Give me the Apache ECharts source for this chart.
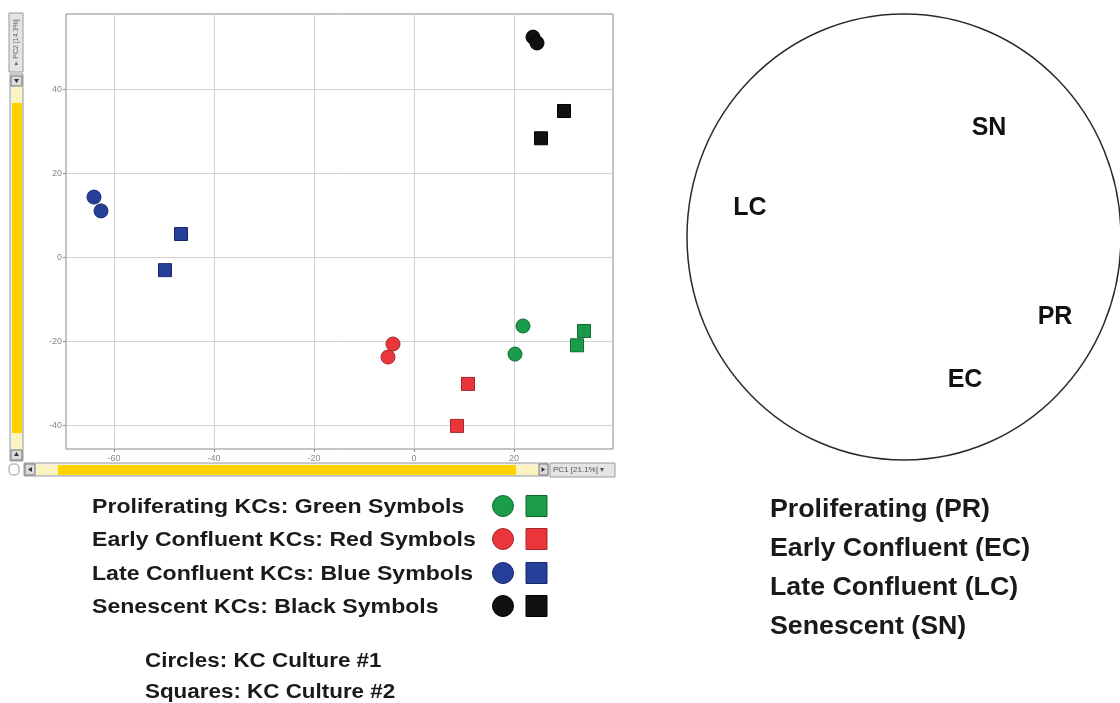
<!DOCTYPE html>
<html><head><meta charset="utf-8">
<script src="https://cdn.jsdelivr.net/npm/echarts@6/dist/echarts.min.js"></script>
<style>html,body{margin:0;padding:0;background:#fff}#c{width:1120px;height:703px}</style>
</head><body><div id="c"></div>
<script>
// ---- data (PC1, PC2) ----
const greenCircles = [[21.8,-16.4],[20.2,-23.1]];
const greenSquares = [[34.0,-17.6],[32.6,-21.0]];
const redCircles   = [[-4.2,-20.7],[-5.2,-23.8]];
const redSquares   = [[10.8,-30.2],[8.6,-40.2]];
const blueCircles  = [[-64.0,14.3],[-62.6,11.0]];
const blueSquares  = [[-46.6,5.5],[-49.8,-3.1]];
const blackCircles = [[23.8,52.4],[24.6,51.0]];
const blackSquares = [[30.0,34.8],[25.4,28.3]];
const xTicks = [-60,-40,-20,0,20];
const yTicks = [-40,-20,0,20,40];
const xAxisName = 'PC1 [21.1%]';
const yAxisName = 'PC2 [14.3%]';
const legendLines = ['Proliferating KCs: Green Symbols','Early Confluent KCs: Red Symbols','Late Confluent KCs: Blue Symbols','Senescent KCs: Black Symbols'];
const shapeLines = ['Circles: KC Culture #1','Squares: KC Culture #2'];
const stageLines = ['Proliferating (PR)','Early Confluent (EC)','Late Confluent (LC)','Senescent (SN)'];
const circleLabels = ['SN','LC','PR','EC'];

const C = {
  green:{fill:'#1a9c4a',stroke:'#0f6b30'},
  red:{fill:'#ea363b',stroke:'#a3262a'},
  blue:{fill:'#263f98',stroke:'#18286b'},
  black:{fill:'#111111',stroke:'#000000'}
};
const groupColors = [C.green,C.red,C.blue,C.black];
const FF = '"Liberation Sans", Arial, sans-serif';

function ser(name,data,sym,col){
  return {name,type:'scatter',data,symbol:sym==='c'?'circle':'rect',symbolSize:sym==='c'?14:13,
    itemStyle:{color:col.fill,borderColor:col.stroke,borderWidth:1,opacity:1},z:5};
}

const g = [];
// left vertical scrollbar + label
g.push({type:'rect',shape:{x:9,y:13,width:14,height:59},style:{fill:'#e4e4e4',stroke:'#9a9a9a',lineWidth:1}});
g.push({type:'text',x:16,y:42,rotation:Math.PI/2,style:{text:'\u25B8 '+yAxisName,fill:'#666',font:'7px '+FF,textAlign:'center',textVerticalAlign:'middle'}});
g.push({type:'rect',shape:{x:10,y:74,width:13,height:387},style:{fill:'#eeeeee',stroke:'#9a9a9a',lineWidth:1}});
g.push({type:'rect',shape:{x:11,y:76,width:11,height:10},style:{fill:'#dcdcdc',stroke:'#777',lineWidth:1}});
g.push({type:'polygon',shape:{points:[[14,79],[19,79],[16.5,83]]},style:{fill:'#333'}});
g.push({type:'rect',shape:{x:12,y:87,width:10,height:16},style:{fill:'#fbf3bd'}});
g.push({type:'rect',shape:{x:12,y:103,width:10,height:330},style:{fill:'#ffd200'}});
g.push({type:'rect',shape:{x:12,y:433,width:10,height:16},style:{fill:'#fbf3bd'}});
g.push({type:'rect',shape:{x:11,y:450,width:11,height:10},style:{fill:'#dcdcdc',stroke:'#777',lineWidth:1}});
g.push({type:'polygon',shape:{points:[[14,456],[19,456],[16.5,452]]},style:{fill:'#333'}});
// bottom scrollbar
g.push({type:'rect',shape:{x:24,y:463,width:524,height:13},style:{fill:'#eeeeee',stroke:'#9a9a9a',lineWidth:1}});
g.push({type:'rect',shape:{x:25,y:464,width:10,height:11},style:{fill:'#dcdcdc',stroke:'#777',lineWidth:1}});
g.push({type:'polygon',shape:{points:[[28,469.5],[32,467],[32,472]]},style:{fill:'#333'}});
g.push({type:'rect',shape:{x:36,y:465,width:22,height:10},style:{fill:'#fbf3bd'}});
g.push({type:'rect',shape:{x:58,y:465,width:458,height:10},style:{fill:'#ffd200'}});
g.push({type:'rect',shape:{x:516,y:465,width:23,height:10},style:{fill:'#fbf3bd'}});
g.push({type:'rect',shape:{x:539,y:464,width:9,height:11},style:{fill:'#dcdcdc',stroke:'#777',lineWidth:1}});
g.push({type:'polygon',shape:{points:[[545,469.5],[541.5,467],[541.5,472]]},style:{fill:'#333'}});
g.push({type:'rect',shape:{x:550,y:463,width:65,height:14},style:{fill:'#e4e4e4',stroke:'#9a9a9a',lineWidth:1}});
g.push({type:'text',x:553,y:470,style:{text:xAxisName+' \u25BE',fill:'#555',font:'8px '+FF,textAlign:'left',textVerticalAlign:'middle'}});
// paperclip icon
g.push({type:'rect',shape:{x:9,y:464,width:10,height:11,r:4},style:{fill:'none',stroke:'#bbb',lineWidth:1.5}});

// legend (left)
const lx=92, ly=[507,540,574,607];
legendLines.forEach((t,i)=>{
  g.push({type:'text',x:lx,y:ly[i],scaleX:1.1,style:{text:t,fill:'#1a1a1a',font:'bold 21px '+FF,textAlign:'left',textVerticalAlign:'middle'}});
  const col=groupColors[i];
  g.push({type:'circle',shape:{cx:503,cy:ly[i]-1,r:10.5},style:{fill:col.fill,stroke:col.stroke,lineWidth:1}});
  g.push({type:'rect',shape:{x:526,y:ly[i]-11.5,width:21,height:21},style:{fill:col.fill,stroke:col.stroke,lineWidth:1}});
});
shapeLines.forEach((t,i)=>{
  g.push({type:'text',x:145,y:[661,692][i],scaleX:1.12,style:{text:t,fill:'#1a1a1a',font:'bold 20px '+FF,textAlign:'left',textVerticalAlign:'middle'}});
});
// right ellipse + labels
g.push({type:'ellipse',shape:{cx:904,cy:237,rx:217,ry:223},style:{fill:'none',stroke:'#2a2a2a',lineWidth:1.5}});
const clPos=[[989,128],[750,208],[1055,317],[965,380]];
circleLabels.forEach((t,i)=>{
  g.push({type:'text',x:clPos[i][0],y:clPos[i][1],style:{text:t,fill:'#111',font:'bold 25px '+FF,textAlign:'center',textVerticalAlign:'middle'}});
});
const sy=[510,549,588,627];
stageLines.forEach((t,i)=>{
  g.push({type:'text',x:770,y:sy[i],scaleX:1.07,style:{text:t,fill:'#1a1a1a',font:'bold 25px '+FF,textAlign:'left',textVerticalAlign:'middle'}});
});

const chart = echarts.init(document.getElementById('c'),null,{renderer:'canvas'});
chart.setOption({
  animation:false,
  backgroundColor:'#fff',
  grid:{left:66,top:14,width:547,height:435,show:true,borderColor:'#8a8a8a',borderWidth:1,backgroundColor:'#fff'},
  xAxis:{type:'value',min:-69.6,max:39.8,position:'bottom',
    axisLine:{show:false,onZero:false},
    axisTick:{show:true,length:3,lineStyle:{color:'#888'},customValues:xTicks},
    axisLabel:{color:'#888',fontSize:9,fontFamily:FF,margin:5,customValues:xTicks},
    splitLine:{show:true,lineStyle:{color:'#d2d2d2',width:1}}},
  yAxis:{type:'value',min:-45.7,max:57.9,position:'left',
    axisLine:{show:false,onZero:false},
    axisTick:{show:true,length:3,lineStyle:{color:'#888'},customValues:yTicks},
    axisLabel:{color:'#888',fontSize:9,fontFamily:FF,margin:4,customValues:yTicks},
    splitLine:{show:true,lineStyle:{color:'#d2d2d2',width:1}}},
  series:[
    ser('Proliferating #1',greenCircles,'c',C.green),
    ser('Proliferating #2',greenSquares,'s',C.green),
    ser('Early Confluent #1',redCircles,'c',C.red),
    ser('Early Confluent #2',redSquares,'s',C.red),
    ser('Late Confluent #1',blueCircles,'c',C.blue),
    ser('Late Confluent #2',blueSquares,'s',C.blue),
    ser('Senescent #1',blackCircles,'c',C.black),
    ser('Senescent #2',blackSquares,'s',C.black)
  ],
  graphic:g
});
</script></body></html>
